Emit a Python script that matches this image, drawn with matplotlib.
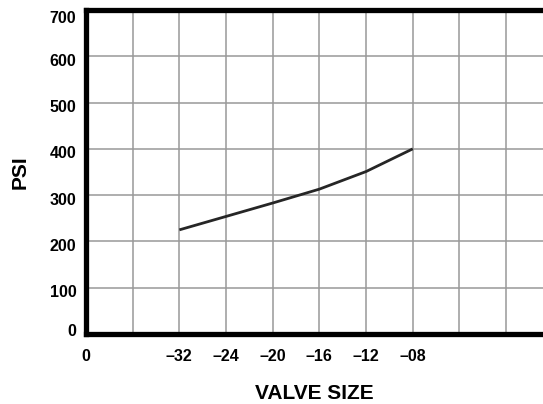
import matplotlib
matplotlib.use("Agg")
import matplotlib.pyplot as plt
import matplotlib.transforms as mtransforms
import numpy as np

# Data
valve_sizes = ['\u201332', '\u201324', '\u201320', '\u201316', '\u201312', '\u201308']
psi = [225, 254, 283, 313, 351, 400]
origin_label = '0'
y_ticks = [0, 100, 200, 300, 400, 500, 600, 700]

plt.rcParams['font.family'] = ['Liberation Sans', 'DejaVu Sans']
plt.rcParams['font.weight'] = 'bold'

fig = plt.figure(figsize=(5.43, 4.04), dpi=100)
left = 86 / 543
bottom = 1 - 334 / 404
top = 1 - 10 / 404
ax = fig.add_axes([left, bottom, 1 - left, top - bottom])

x_pos = np.arange(2, 2 + len(valve_sizes))
ax.plot(x_pos, psi, color='#262626', lw=2.0, solid_capstyle='butt',
        solid_joinstyle='round', zorder=3)

ax.set_xlim(0, 9.79)
ax.set_ylim(0, 700)

# gridlines
for gx in range(1, 10):
    ax.axvline(gx, color='#999999', lw=1.1, zorder=1)
for gy in y_ticks[1:-1]:
    ax.axhline(gy, color='#999999', lw=1.1, zorder=1)

ax.set_xticks(np.concatenate([[0], x_pos]))
ax.set_xticklabels([origin_label] + valve_sizes)
ax.set_yticks(y_ticks)
ax.set_yticklabels([str(v) for v in y_ticks])
ax.tick_params(axis='x', which='both', length=0, pad=11, labelsize=11.5)
ax.tick_params(axis='y', which='both', length=0, pad=7, labelsize=11.5)

# nudge y tick labels like the reference
for lab, v in zip(ax.get_yticklabels(), y_ticks):
    if v == 0:
        dy = 3 / 72
    elif v == 700:
        dy = -5 / 72
    else:
        dy = -2.5 / 72
    lab.set_transform(lab.get_transform() + mtransforms.ScaledTranslation(0, dy, fig.dpi_scale_trans))

for s in ['left', 'top', 'bottom']:
    ax.spines[s].set_linewidth(3.8)
    ax.spines[s].set_color('black')
ax.spines['right'].set_visible(False)

ax.set_xlabel('VALVE SIZE', fontsize=15, fontweight='bold', labelpad=14)
ax.set_ylabel('PSI', fontsize=15, fontweight='bold', labelpad=14)

fig.savefig('out.png', dpi=100)
